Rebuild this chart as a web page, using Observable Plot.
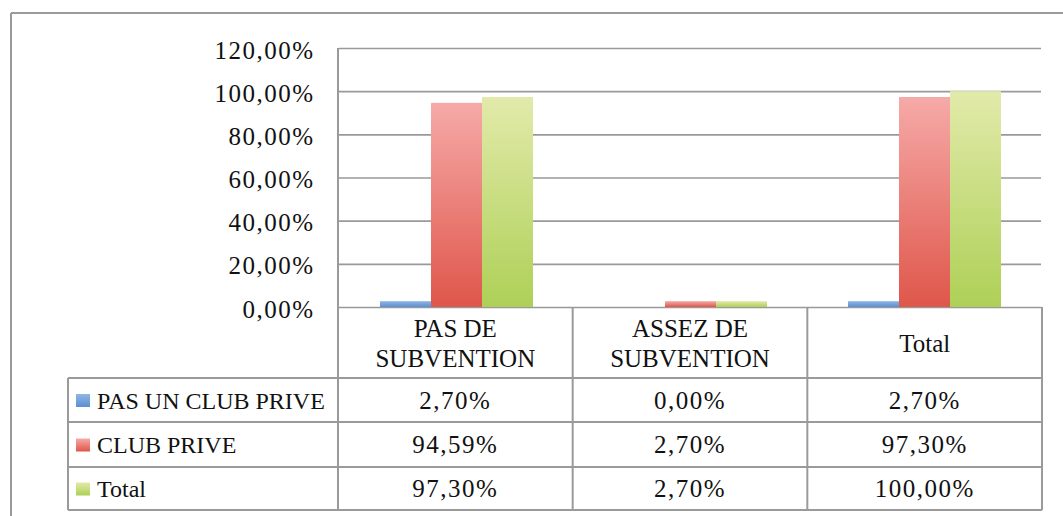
<!DOCTYPE html>
<html>
<head>
<meta charset="utf-8">
<script src="https://cdn.jsdelivr.net/npm/d3@7"></script>
<script src="https://cdn.jsdelivr.net/npm/@observablehq/plot@0.6"></script>
<style>
  html, body { margin: 0; padding: 0; background: #fff; }
  #chart { position: relative; width: 1063px; height: 516px; overflow: hidden; }
</style>
</head>
<body>
<div id="chart"></div>
<script>
// ---- data ----
const categories = ["PAS DE\nSUBVENTION", "ASSEZ DE\nSUBVENTION", "Total"];
const series = ["PAS UN CLUB PRIVE", "CLUB PRIVE", "Total"];
const pasUnClubPrive = [0.027, 0.0, 0.027];
const clubPrive = [0.9459, 0.027, 0.973];
const totalValues = [0.973, 0.027, 1.0];
const yTicks = [0, 0.2, 0.4, 0.6, 0.8, 1.0, 1.2];

const seriesValues = [pasUnClubPrive, clubPrive, totalValues];
const rows = [];
categories.forEach((c, ci) => series.forEach((s, si) => rows.push({cat: c, series: s, value: seriesValues[si][ci]})));

const gradIds = ["gBlue", "gRed", "gGreen"];
const gradStops = [["#8fb6e6", "#5b8fd0"], ["#f6aaa8", "#df564a"], ["#e2eaaa", "#aed057"]];

const fmt = v => (v * 100).toFixed(2).replace(".", ",") + "%";

const W = 1063, H = 516;
const FONT = "'Liberation Serif', 'Times New Roman', serif";
const NUM_SPACING = 1.5;

const chart = Plot.plot({
  width: W,
  height: H,
  marginTop: 48,
  marginBottom: 209,
  marginLeft: 338,
  marginRight: 21,
  style: {fontFamily: FONT, fontSize: "25px", color: "#111", background: "transparent"},
  fx: {domain: categories, padding: 0, axis: null, label: null},
  x: {domain: series, paddingInner: 0, paddingOuter: 0.757, axis: null},
  y: {domain: [0, 1.2], ticks: yTicks, tickFormat: fmt, tickSize: 0, tickPadding: 25, label: null},
  color: {domain: series, range: gradIds.map(id => `url(#${id})`)},
  marks: [
    Plot.ruleY(yTicks, {stroke: "#999", strokeWidth: 1.6}),
    Plot.barY(rows, {fx: "cat", x: "series", y: "value", fill: "series"})
  ]
});

document.getElementById("chart").appendChild(chart);

const svg = d3.select(chart);
svg.style("position", "absolute").style("left", "0px").style("top", "0px").style("overflow", "visible");
svg.selectAll('g[aria-label^="y-axis"] text').attr("letter-spacing", NUM_SPACING);
svg.selectAll('g[aria-label^="y-axis"]').each(function() {
  const t = this.getAttribute("transform") || "";
  this.setAttribute("transform", t + " translate(0,2)");
});

// gradients
const defs = svg.insert("defs", ":first-child");
gradIds.forEach((id, i) => {
  const g = defs.append("linearGradient").attr("id", id).attr("x1", 0).attr("y1", 0).attr("x2", 0).attr("y2", 1);
  g.append("stop").attr("offset", "0%").attr("stop-color", gradStops[i][0]);
  g.append("stop").attr("offset", "100%").attr("stop-color", gradStops[i][1]);
});

// layout from the library's scales
const fxs = chart.scale("fx");
const ys = chart.scale("y");
const x0 = Math.min(...fxs.range), x1 = Math.max(...fxs.range);
const step = (x1 - x0) / categories.length;
const colEdges = d3.range(categories.length + 1).map(i => x0 + i * step);
const yTop = Math.min(...ys.range), yBase = Math.max(...ys.range);
const headerBottom = 378;
const rowEdges = [378, 422, 467, 510];
const tableLeft = 68;

const lines = svg.append("g").attr("stroke", "#9a9a9a").attr("stroke-width", 2).attr("fill", "none");
const line = (xa, ya, xb, yb) => lines.append("line").attr("x1", xa).attr("y1", ya).attr("x2", xb).attr("y2", yb);

// outer chart border
line(11, 13, W + 5, 13);
line(11, 13, 11, H + 5);

// value axis line and table grid
line(x0, yTop, x0, rowEdges[rowEdges.length - 1]);
colEdges.slice(1).forEach(x => line(x, yBase, x, rowEdges[rowEdges.length - 1]));
rowEdges.forEach(y => line(tableLeft, y, x1, y));
line(tableLeft, rowEdges[0], tableLeft, rowEdges[rowEdges.length - 1]);

const txt = svg.append("g").attr("font-family", FONT).attr("font-size", 25).attr("fill", "#111")
  .attr("text-anchor", "start");

// header (category labels)
categories.forEach((c, i) => {
  const cx = (colEdges[i] + colEdges[i + 1]) / 2;
  const parts = c.split("\n");
  const cy = (yBase + headerBottom) / 2 + 4;
  const lh = 30;
  parts.forEach((p, j) => {
    txt.append("text").attr("x", cx).attr("y", cy + (j - (parts.length - 1) / 2) * lh)
      .attr("text-anchor", "middle").attr("dominant-baseline", "middle").text(p);
  });
});

// rows
series.forEach((s, si) => {
  const cy = (rowEdges[si] + rowEdges[si + 1]) / 2 + 3;
  svg.append("rect").attr("x", 76).attr("y", cy - 9).attr("width", 14).attr("height", 13)
    .attr("fill", `url(#${gradIds[si]})`);
  txt.append("text").attr("x", 97).attr("y", cy).attr("text-anchor", "start")
    .attr("dominant-baseline", "middle").attr("font-size", 24).text(s);
  categories.forEach((c, ci) => {
    const cx = (colEdges[ci] + colEdges[ci + 1]) / 2;
    txt.append("text").attr("x", cx).attr("y", cy).attr("text-anchor", "middle")
      .attr("letter-spacing", NUM_SPACING)
      .attr("dominant-baseline", "middle").text(fmt(seriesValues[si][ci]));
  });
});
</script>
</body>
</html>
